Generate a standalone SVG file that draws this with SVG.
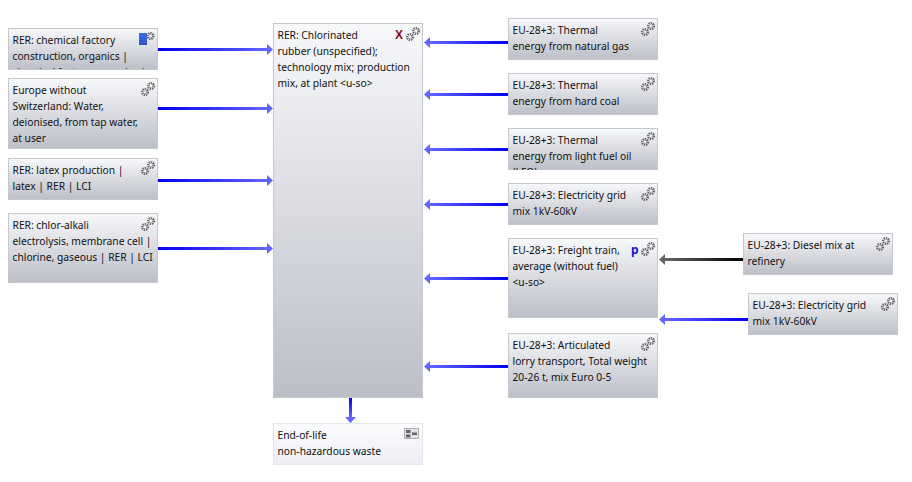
<svg xmlns="http://www.w3.org/2000/svg" xmlns:xlink="http://www.w3.org/1999/xlink" width="912" height="482" viewBox="0 0 912 482">
<style>
text{font-family:"Noto Sans","Liberation Sans",sans-serif;font-size:10.25px;fill:#111}
.box{fill:url(#g);stroke:#c6c8d0;stroke-width:1}
.gear{fill:none;stroke:#6a6a6a;stroke-width:2.6;stroke-dasharray:1.3 .8}
</style>
<defs>
<linearGradient id="g" x1="0" y1="0" x2="0" y2="1"><stop offset="0" stop-color="#f7f8fa"/><stop offset="1" stop-color="#bcbfc8"/></linearGradient>
<linearGradient id="w" x1="0" y1="0" x2="0" y2="1"><stop offset="0" stop-color="#fbfcfd"/><stop offset="1" stop-color="#eceef3"/></linearGradient>
<linearGradient id="lr" x1="0" y1="0" x2="1" y2="0"><stop offset="0" stop-color="#0000f5"/><stop offset="1" stop-color="#6464ff"/></linearGradient>
<linearGradient id="rl" x1="1" y1="0" x2="0" y2="0"><stop offset="0" stop-color="#0000f5"/><stop offset="1" stop-color="#6464ff"/></linearGradient>
<linearGradient id="kg" x1="1" y1="0" x2="0" y2="0"><stop offset="0" stop-color="#000"/><stop offset="1" stop-color="#666"/></linearGradient>
<linearGradient id="td" x1="0" y1="0" x2="0" y2="1"><stop offset="0" stop-color="#0000f5"/><stop offset="1" stop-color="#6464ff"/></linearGradient>
<linearGradient id="bl" x1="0" y1="0" x2="0" y2="1"><stop offset="0" stop-color="#3a6cf0"/><stop offset="1" stop-color="#2f55c0"/></linearGradient>
<clipPath id="c1"><rect x="8" y="28" width="150" height="41"/></clipPath>
<clipPath id="c3"><rect x="508" y="128" width="150" height="42"/></clipPath>
<symbol id="gears" width="16" height="16" viewBox="0 0 16 16" overflow="visible">
<circle class="gear" cx="11" cy="5" r="2.800"/><circle class="gear" cx="5" cy="11" r="2.800"/>
</symbol>
</defs>
<rect width="912" height="482" fill="#fff"/>
<g id="connectors">
<rect x="158" y="48" width="109" height="3" fill="url(#lr)"/><path d="M273 49.500l-6-5.500v11z" fill="#6464ff"/>
<rect x="158" y="107" width="109" height="3" fill="url(#lr)"/><path d="M273 108.500l-6-5.500v11z" fill="#6464ff"/>
<rect x="158" y="179" width="109" height="3" fill="url(#lr)"/><path d="M273 180.500l-6-5.500v11z" fill="#6464ff"/>
<rect x="158" y="247" width="109" height="3" fill="url(#lr)"/><path d="M273 248.500l-6-5.500v11z" fill="#6464ff"/>
<rect x="430" y="41" width="78" height="3" fill="url(#rl)"/><path d="M424 42.500l6-5.500v11z" fill="#6464ff"/>
<rect x="430" y="93" width="78" height="3" fill="url(#rl)"/><path d="M424 94.500l6-5.500v11z" fill="#6464ff"/>
<rect x="430" y="148" width="78" height="3" fill="url(#rl)"/><path d="M424 149.500l6-5.500v11z" fill="#6464ff"/>
<rect x="430" y="203" width="78" height="3" fill="url(#rl)"/><path d="M424 204.500l6-5.500v11z" fill="#6464ff"/>
<rect x="430" y="277" width="78" height="3" fill="url(#rl)"/><path d="M424 278.500l6-5.500v11z" fill="#6464ff"/>
<rect x="430" y="365" width="78" height="3" fill="url(#rl)"/><path d="M424 366.500l6-5.500v11z" fill="#6464ff"/>
<rect x="665" y="258" width="78" height="3" fill="url(#kg)"/><path d="M659 259.500l6-5.500v11z" fill="#666"/>
<rect x="665" y="318" width="83" height="3" fill="url(#rl)"/><path d="M659 319.500l6-5.500v11z" fill="#6464ff"/>
<rect x="349" y="398" width="3" height="19" fill="url(#td)"/><path d="M350.500 423l-5.500-6h11z" fill="#6464ff"/>
</g>
<g id="n1"><rect class="box" x="8.500" y="28.500" width="149" height="41"/>
<g clip-path="url(#c1)"><text x="12.500" y="44">RER: chemical factory</text><text x="12.500" y="60">construction, organics |</text><text x="12.500" y="76">chemical factory, organics |</text></g>
<rect x="139" y="33" width="8" height="12" fill="url(#bl)"/><circle class="gear" cx="150.500" cy="36" r="2.800"/></g>
<g id="n2"><rect class="box" x="8.500" y="78.500" width="149" height="70"/><text x="12.500" y="94">Europe without</text><text x="12.500" y="110">Switzerland: Water,</text><text x="12.500" y="126">deionised, from tap water,</text><text x="12.500" y="142">at user</text><use href="#gears" x="140" y="81"/></g>
<g id="n3"><rect class="box" x="8.500" y="158.500" width="149" height="41"/><text x="12.500" y="174">RER: latex production |</text><text x="12.500" y="190">latex | RER | LCI</text><use href="#gears" x="140" y="160"/></g>
<g id="n4"><rect class="box" x="8.500" y="213.500" width="149" height="69"/><text x="12.500" y="229">RER: chlor-alkali</text><text x="12.500" y="245">electrolysis, membrane cell |</text><text x="12.500" y="261">chlorine, gaseous | RER | LCI</text><use href="#gears" x="140" y="216"/></g>
<g id="main"><rect class="box" x="273.500" y="23.500" width="149" height="374"/><text x="277.500" y="39">RER: Chlorinated</text><text x="277.500" y="55">rubber (unspecified);</text><text x="277.500" y="71">technology mix; production</text><text x="277.500" y="87">mix, at plant &lt;u-so&gt;</text>
<text x="395" y="39" style="font-family:'Liberation Sans',sans-serif;font-weight:bold;font-size:12px;fill:#8b0a14">X</text><use href="#gears" x="405" y="26"/></g>
<g id="r1"><rect class="box" x="508.500" y="18.500" width="149" height="41"/><text x="512.500" y="34">EU-28+3: Thermal</text><text x="512.500" y="50">energy from natural gas</text><use href="#gears" x="640" y="21"/></g>
<g id="r2"><rect class="box" x="508.500" y="73.500" width="149" height="41"/><text x="512.500" y="89">EU-28+3: Thermal</text><text x="512.500" y="105">energy from hard coal</text><use href="#gears" x="640" y="76"/></g>
<g id="r3"><rect class="box" x="508.500" y="128.500" width="149" height="41"/><g clip-path="url(#c3)"><text x="512.500" y="144">EU-28+3: Thermal</text><text x="512.500" y="160">energy from light fuel oil</text><text x="512.500" y="176">(LFO)</text></g><use href="#gears" x="640" y="131"/></g>
<g id="r4"><rect class="box" x="508.500" y="183.500" width="149" height="41"/><text x="512.500" y="199">EU-28+3: Electricity grid</text><text x="512.500" y="215">mix 1kV-60kV</text><use href="#gears" x="640" y="186"/></g>
<g id="r5"><rect class="box" x="508.500" y="238.500" width="149" height="79"/><text x="512.500" y="254">EU-28+3: Freight train,</text><text x="512.500" y="270">average (without fuel)</text><text x="512.500" y="286">&lt;u-so&gt;</text>
<text x="631" y="254" style="font-weight:bold;font-size:12px;fill:#1414d2">p</text><use href="#gears" x="640" y="241"/></g>
<g id="r6"><rect class="box" x="508.500" y="333.500" width="149" height="64"/><text x="512.500" y="349">EU-28+3: Articulated</text><text x="512.500" y="365">lorry transport, Total weight</text><text x="512.500" y="381">20-26 t, mix Euro 0-5</text><use href="#gears" x="640" y="336"/></g>
<g id="f1"><rect class="box" x="743.500" y="233.500" width="149" height="41"/><text x="747.500" y="249">EU-28+3: Diesel mix at</text><text x="747.500" y="265">refinery</text><use href="#gears" x="875" y="236"/></g>
<g id="f2"><rect class="box" x="748.500" y="293.500" width="149" height="41"/><text x="752.500" y="309">EU-28+3: Electricity grid</text><text x="752.500" y="325">mix 1kV-60kV</text><use href="#gears" x="880" y="296"/></g>
<g id="eol"><rect x="273.500" y="423.500" width="149" height="41" fill="url(#w)" stroke="#e4e6ec"/><text x="277.500" y="439">End-of-life</text><text x="277.500" y="455">non-hazardous waste</text>
<rect x="404.500" y="428.500" width="14" height="10" fill="#e2e3e7" stroke="#b0b0b4"/><rect x="406" y="430" width="4.500" height="3" fill="#666"/><rect x="406" y="434.500" width="4.500" height="3" fill="#666"/><rect x="412" y="432.500" width="5" height="2.500" fill="#666"/></g>
</svg>
